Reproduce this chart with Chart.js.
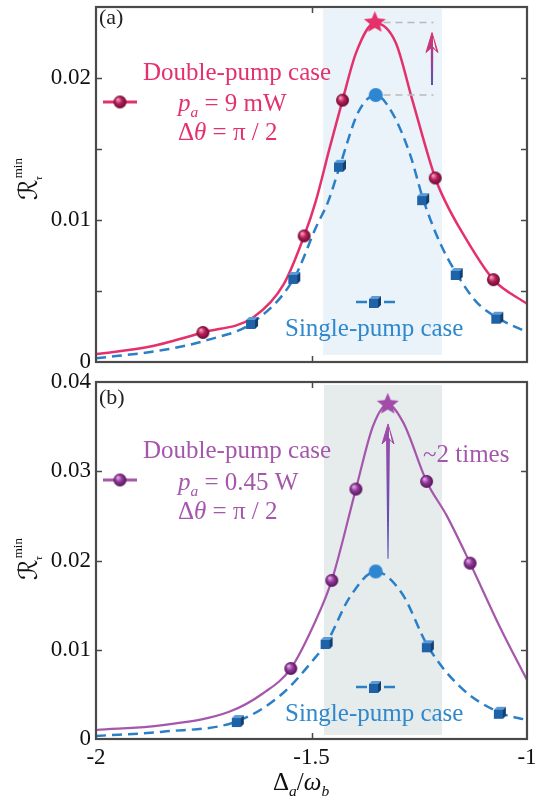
<!DOCTYPE html>
<html>
<head>
<meta charset="utf-8">
<script src="https://cdn.jsdelivr.net/npm/chart.js@4.4.0/dist/chart.umd.min.js"></script>
<style>
html,body{margin:0;padding:0;background:#fff;}
#wrap{position:relative;width:549px;height:801px;overflow:hidden;}
canvas{position:absolute;left:0;}
#ca{top:0;}
#cb{top:370px;}
</style>
</head>
<body>
<div id="wrap">
  <canvas id="ca" width="549" height="370"></canvas>
  <canvas id="cb" width="549" height="431"></canvas>
</div>
<script>
// ===== Data =====
const xTickVals = [-2, -1.5, -1];
const xTickText = ['-2', '-1.5', '-1'];
const xMarks = [-1.5];

const yTickValsA = [0, 0.01, 0.02];
const yTickTextA = ['0', '0.01', '0.02'];
const yMarksA = [0.005, 0.01, 0.015, 0.02];
const yTickValsB = [0, 0.01, 0.02, 0.03, 0.04];
const yTickTextB = ['0', '0.01', '0.02', '0.03', '0.04'];
const yMarksB = [0.01, 0.02, 0.03];

// (a) double-pump, p_a = 9 mW
const xDoubleA = [-2, -1.877, -1.752, -1.634, -1.564, -1.517, -1.490, -1.458, -1.428, -1.396, -1.353, -1.305, -1.267, -1.213, -1.190, -1.148, -1.078, -1.0];
const yDoubleA = [0.00056, 0.00107, 0.00208, 0.00317, 0.0055, 0.00888, 0.01133, 0.01506, 0.01844, 0.02182, 0.02387, 0.02252, 0.01855, 0.01296, 0.01133, 0.0090, 0.0058, 0.0041];
const xBallsA = [-1.752, -1.517, -1.428, -1.213, -1.078];
const yBallsA = [0.00208, 0.00888, 0.01844, 0.01296, 0.0058];
const xStarA = [-1.353], yStarA = [0.0239];

// (a) single-pump
const xSingleA = [-2, -1.845, -1.743, -1.638, -1.540, -1.490, -1.461, -1.434, -1.391, -1.351, -1.314, -1.271, -1.241, -1.202, -1.163, -1.117, -1.069, -1.0];
const ySingleA = [0.00026, 0.00084, 0.00154, 0.00275, 0.00592, 0.00946, 0.01133, 0.01382, 0.01762, 0.01879, 0.01762, 0.01459, 0.01147, 0.0084, 0.0062, 0.00422, 0.00312, 0.0021];
const xCubesA = [-1.638, -1.540, -1.434, -1.241, -1.163, -1.069];
const yCubesA = [0.00275, 0.00592, 0.01382, 0.01147, 0.0062, 0.00312];
const xPeakA = [-1.351], yPeakA = [0.0188];

// (b) double-pump, p_a = 0.45 W
const xDoubleB = [-2, -1.845, -1.691, -1.613, -1.548, -1.490, -1.453, -1.397, -1.357, -1.323, -1.287, -1.233, -1.186, -1.132, -1.063, -1.0];
const yDoubleB = [0.00101, 0.00156, 0.00305, 0.0051, 0.0079, 0.0133, 0.01777, 0.028, 0.0351, 0.0375, 0.03545, 0.02886, 0.025, 0.0197, 0.01255, 0.0066];
const xBallsB = [-1.548, -1.453, -1.397, -1.233, -1.132];
const yBallsB = [0.0079, 0.01777, 0.028, 0.02886, 0.0197];
const xStarB = [-1.323], yStarB = [0.0375];

// (b) single-pump
const xSingleB = [-2, -1.845, -1.671, -1.567, -1.490, -1.465, -1.411, -1.351, -1.29, -1.230, -1.155, -1.063, -1.0];
const ySingleB = [0.00034, 0.00082, 0.00201, 0.0051, 0.0092, 0.01076, 0.0159, 0.01877, 0.0163, 0.01039, 0.00584, 0.00294, 0.00212];
const xCubesB = [-1.671, -1.465, -1.230, -1.063];
const yCubesB = [0.00201, 0.01076, 0.01039, 0.00294];
const xPeakB = [-1.351], yPeakB = [0.01877];

// shaded windows and arrows (data units)
const bandA = [-1.473, -1.197];
const bandB = [-1.471, -1.197];
const arrowA = [-1.2204, 0.0195, 0.0232];
const arrowB = [-1.3225, 0.0202, 0.0353];
const guideA = [-1.333, -1.217];

// ===== Styles =====
const RED = '#E4316C', BLUE = '#2B7FC7', BLUE_TXT = '#2F88CC', PURPLE = '#A557AB', AXIS = '#4a4a4a';
const SERIF = '"Liberation Serif", "Times New Roman", serif';

// ===== Marker images =====
function sphere(r, c0, c1, c2){
  const c = document.createElement('canvas'); c.width = c.height = 2*r+2;
  const g = c.getContext('2d');
  const gr = g.createRadialGradient(r+1-r*0.35, r+1-r*0.4, r*0.1, r+1, r+1, r);
  gr.addColorStop(0, c0); gr.addColorStop(0.45, c1); gr.addColorStop(1, c2);
  g.fillStyle = gr; g.beginPath(); g.arc(r+1, r+1, r, 0, Math.PI*2); g.fill();
  return c;
}
function disc(r, col){
  const c = document.createElement('canvas'); c.width = c.height = 2*r+2;
  const g = c.getContext('2d'); g.fillStyle = col;
  g.beginPath(); g.arc(r+1, r+1, r, 0, Math.PI*2); g.fill();
  return c;
}
function cube(s){
  const c = document.createElement('canvas'); c.width = c.height = s+4;
  const g = c.getContext('2d');
  g.fillStyle = '#5A9AD6';
  g.beginPath(); g.moveTo(1,4); g.lineTo(4,1); g.lineTo(s+3,1); g.lineTo(s,4); g.closePath(); g.fill();
  g.fillStyle = '#1E63A8'; g.fillRect(1, 4, s-1, s-1);
  g.fillStyle = '#133F70';
  g.beginPath(); g.moveTo(s,4); g.lineTo(s+3,1); g.lineTo(s+3,s); g.lineTo(s,s+3); g.closePath(); g.fill();
  return c;
}
function star(R, col){
  const c = document.createElement('canvas'); c.width = c.height = 2*R+2;
  const g = c.getContext('2d'); g.fillStyle = col; g.beginPath();
  for(let i=0;i<10;i++){
    const rr = i%2 ? R*0.45 : R, t = -Math.PI/2 + i*Math.PI/5;
    g.lineTo(R+1 + rr*Math.cos(t), R+1 + rr*Math.sin(t));
  }
  g.closePath(); g.fill();
  return c;
}
const ballRed = sphere(6.5, '#F79AB9', '#B8205A', '#650A2E');
const ballPurple = sphere(6.5, '#DDA6E2', '#93399B', '#521458');
const cubeBlue = cube(10);
const starRed = star(11.5, RED);
const starPurple = star(11.5, '#A24CA9');
const dotBlue = disc(7, '#2D86D1');

// ===== Helpers =====
const pts = (xs, ys)=>xs.map((v,i)=>({x:v, y:ys[i]}));
function curve(xs, ys, color, width, dash){
  return {data:pts(xs,ys), showLine:true, borderColor:color, borderWidth:width, borderDash:dash||[],
    pointRadius:0, cubicInterpolationMode:'monotone', fill:false};
}
function marks(xs, ys, img){
  return {data:pts(xs,ys), showLine:false, pointStyle:img, pointRadius:6, pointHoverRadius:6};
}
function rich(ctx, x, y, parts, size, color){
  let cx = x;
  ctx.fillStyle = color; ctx.textBaseline = 'alphabetic'; ctx.textAlign = 'left';
  parts.forEach(p=>{
    const s = p.sub ? size*0.62 : size;
    ctx.font = `${p.it?'italic ':''}${s}px ${SERIF}`;
    const dy = p.sub ? size*0.24 : 0;
    ctx.fillText(p.t, cx, y+dy);
    cx += ctx.measureText(p.t).width;
  });
}
function yTitle(ctx, xb, y0){
  ctx.save(); ctx.translate(xb, y0); ctx.rotate(-Math.PI/2);
  ctx.fillStyle = '#111'; ctx.textAlign = 'left'; ctx.textBaseline = 'alphabetic';
  ctx.font = 'italic 26px "DejaVu Serif", "DejaVu Sans"';
  ctx.fillText('ℛ', 0, 0);
  const w = ctx.measureText('ℛ').width;
  ctx.font = `13px ${SERIF}`; ctx.fillText('min', w+1, -15);
  ctx.font = `italic 11px ${SERIF}`; ctx.fillText('τ', w-1, 5);
  ctx.restore();
}
function arrow(chart, spec, cBot, cTop, w0, w1){
  const {ctx, scales:{x, y}} = chart;
  const px = x.getPixelForValue(spec[0]), yb = y.getPixelForValue(spec[1]), yt = y.getPixelForValue(spec[2]);
  const hl = 20, hw = 6;
  const gr = ctx.createLinearGradient(0, yb, 0, yt);
  gr.addColorStop(0, cBot); gr.addColorStop(1, cTop);
  ctx.save(); ctx.fillStyle = gr;
  ctx.beginPath();
  ctx.moveTo(px - w0/2, yb); ctx.lineTo(px + w0/2, yb);
  ctx.lineTo(px + w1/2, yt + hl*0.7); ctx.lineTo(px - w1/2, yt + hl*0.7); ctx.closePath(); ctx.fill();
  ctx.beginPath();
  ctx.moveTo(px, yt); ctx.lineTo(px - hw, yt + hl); ctx.lineTo(px, yt + hl*0.72); ctx.lineTo(px + hw, yt + hl); ctx.closePath();
  ctx.fill(); ctx.strokeStyle = cTop; ctx.lineWidth = 1; ctx.stroke();
  ctx.fillStyle = '#fff';
  ctx.beginPath(); ctx.moveTo(px+1, yt+5); ctx.lineTo(px+hw-2, yt+hl-2); ctx.lineTo(px+1, yt+hl*0.68); ctx.closePath(); ctx.fill();
  ctx.restore();
}
function legendDouble(ctx, y, color, ball){
  ctx.save(); ctx.strokeStyle = color; ctx.lineWidth = 3;
  ctx.beginPath(); ctx.moveTo(103, y); ctx.lineTo(137, y); ctx.stroke();
  ctx.drawImage(ball, 120 - ball.width/2, y - ball.height/2);
  ctx.restore();
}
function legendSingle(ctx, y){
  ctx.save(); ctx.strokeStyle = BLUE; ctx.lineWidth = 2.5;
  ctx.beginPath(); ctx.moveTo(356, y); ctx.lineTo(367, y); ctx.moveTo(384, y); ctx.lineTo(395, y); ctx.stroke();
  ctx.drawImage(cubeBlue, 375 - cubeBlue.width/2, y - cubeBlue.height/2);
  ctx.restore();
}

// ===== Decoration plugin =====
function deco(cfg){
  return {
    id: 'deco',
    beforeDatasetsDraw(chart){
      const {ctx, chartArea:a, scales:{x}} = chart;
      const x0 = x.getPixelForValue(cfg.band[0]), x1 = x.getPixelForValue(cfg.band[1]);
      ctx.save(); ctx.fillStyle = cfg.bandColor;
      ctx.fillRect(x0, a.top + cfg.inset[0], x1 - x0, a.bottom - a.top - cfg.inset[0] - cfg.inset[1]);
      ctx.restore();
    },
    afterDraw(chart){
      const {ctx, chartArea:a, scales:{x, y}} = chart;
      ctx.save();
      ctx.strokeStyle = AXIS; ctx.lineWidth = 1.5;
      ctx.beginPath();
      cfg.marks.forEach(v=>{
        const py = Math.round(y.getPixelForValue(v)) + 0.5;
        ctx.moveTo(a.left, py); ctx.lineTo(a.left + 6, py);
        ctx.moveTo(a.right, py); ctx.lineTo(a.right - 6, py);
      });
      xMarks.forEach(v=>{
        const px = Math.round(x.getPixelForValue(v)) + 0.5;
        ctx.moveTo(px, a.top); ctx.lineTo(px, a.top + 6);
        ctx.moveTo(px, a.bottom); ctx.lineTo(px, a.bottom - 6);
      });
      ctx.stroke();
      ctx.lineWidth = 2.2;
      ctx.strokeRect(a.left, a.top, a.right - a.left, a.bottom - a.top);
      ctx.restore();
      cfg.draw(chart);
    }
  };
}

function noPad(s){ s.paddingTop = 0; s.paddingBottom = 0; s.paddingLeft = 0; s.paddingRight = 0; }

function makeChart(id, cfg){
  const showX = !!cfg.showX;
  return new Chart(document.getElementById(id), {
    type: 'scatter',
    data: {datasets: cfg.datasets},
    options: {
      responsive: false, animation: false, devicePixelRatio: 1,
      layout: {padding: cfg.padding},
      plugins: {legend: {display:false}, tooltip: {enabled:false}},
      scales: {
        x: {type:'linear', min:-2, max:-1, display: showX,
          grid:{display:false, drawTicks:false}, border:{display:false},
          afterBuildTicks: s=>{ s.ticks = xTickVals.map(v=>({value:v})); },
          afterFit: s=>{ s.height = showX ? 62 : 0; noPad(s); },
          ticks:{padding:5, maxRotation:0, autoSkip:false, color:'#111',
            font:{family:SERIF, size:23}, callback:(v,i)=>xTickText[i]}},
        y: {min:0, max:cfg.yMax,
          grid:{display:false, drawTicks:false}, border:{display:false},
          afterBuildTicks: s=>{ s.ticks = cfg.yVals.map(v=>({value:v})); },
          afterFit: s=>{ s.width = 96; noPad(s); },
          ticks:{padding:5, color:'#111', font:{family:SERIF, size:23}, callback:(v,i)=>cfg.yText[i]}}
      }
    },
    plugins: [deco(cfg)]
  });
}

// ===== Panel (a) =====
makeChart('ca', {
  yMax: 0.025, yVals: yTickValsA, yText: yTickTextA, marks: yMarksA,
  padding: {left:0, right:22, top:4, bottom:8},
  band: bandA, bandColor: '#EAF3FA', inset: [2, 7],
  datasets: [
    marks(xStarA, yStarA, starRed),
    marks(xPeakA, yPeakA, dotBlue),
    marks(xBallsA, yBallsA, ballRed),
    marks(xCubesA, yCubesA, cubeBlue),
    curve(xDoubleA, yDoubleA, RED, 2.5),
    curve(xSingleA, ySingleA, BLUE, 2.5, [10, 6])
  ],
  draw(chart){
    const {ctx, scales:{x, y}} = chart;
    // grey guides from the two peaks
    ctx.save(); ctx.strokeStyle = '#b9b9b9'; ctx.lineWidth = 1.5; ctx.setLineDash([7, 5]);
    ctx.beginPath();
    [yStarA[0], yPeakA[0]].forEach(v=>{
      const py = y.getPixelForValue(v);
      ctx.moveTo(x.getPixelForValue(guideA[0]), py); ctx.lineTo(x.getPixelForValue(guideA[1]), py);
    });
    ctx.stroke(); ctx.restore();
    arrow(chart, arrowA, '#5a4fb4', '#d8326f', 2, 2.5);

    ctx.fillStyle = '#222'; ctx.font = `22px ${SERIF}`; ctx.textAlign = 'left';
    ctx.fillText('(a)', 99, 24);
    rich(ctx, 143, 80, [{t:'Double-pump case'}], 25, RED);
    rich(ctx, 178, 111, [{t:'p', it:1}, {t:'a', it:1, sub:1}, {t:' = 9 mW'}], 25, RED);
    rich(ctx, 178, 140, [{t:'Δ'}, {t:'θ', it:1}, {t:' = π / 2'}], 25, RED);
    legendDouble(ctx, 102, RED, ballRed);
    rich(ctx, 285, 336, [{t:'Single-pump case'}], 25, BLUE_TXT);
    legendSingle(ctx, 302);
    yTitle(ctx, 37, 200);
  }
});

// ===== Panel (b) =====
makeChart('cb', {
  yMax: 0.04, yVals: yTickValsB, yText: yTickTextB, marks: yMarksB, showX: true,
  padding: {left:0, right:22, top:12, bottom:0},
  band: bandB, bandColor: '#E6ECEC', inset: [3, 4],
  datasets: [
    marks(xStarB, yStarB, starPurple),
    marks(xPeakB, yPeakB, dotBlue),
    marks(xBallsB, yBallsB, ballPurple),
    marks(xCubesB, yCubesB, cubeBlue),
    curve(xDoubleB, yDoubleB, PURPLE, 2.2),
    curve(xSingleB, ySingleB, BLUE, 2.5, [10, 6])
  ],
  draw(chart){
    const {ctx} = chart;
    arrow(chart, arrowB, '#4b4fb4', '#a24ca9', 1, 4);

    ctx.fillStyle = '#222'; ctx.font = `22px ${SERIF}`; ctx.textAlign = 'left';
    ctx.fillText('(b)', 99, 34);
    rich(ctx, 143, 88, [{t:'Double-pump case'}], 25, PURPLE);
    rich(ctx, 178, 120, [{t:'p', it:1}, {t:'a', it:1, sub:1}, {t:' = 0.45 W'}], 25, PURPLE);
    rich(ctx, 178, 149, [{t:'Δ'}, {t:'θ', it:1}, {t:' = π / 2'}], 25, PURPLE);
    rich(ctx, 423, 92, [{t:'~2 times'}], 25, PURPLE);
    legendDouble(ctx, 110, PURPLE, ballPurple);
    rich(ctx, 285, 351, [{t:'Single-pump case'}], 25, BLUE_TXT);
    legendSingle(ctx, 317);
    rich(ctx, 273, 420, [{t:'Δ'}, {t:'a', it:1, sub:1}, {t:'/'}, {t:'ω', it:1}, {t:'b', it:1, sub:1}], 25, '#111');
    yTitle(ctx, 37, 210);
  }
});
</script>
</body>
</html>
